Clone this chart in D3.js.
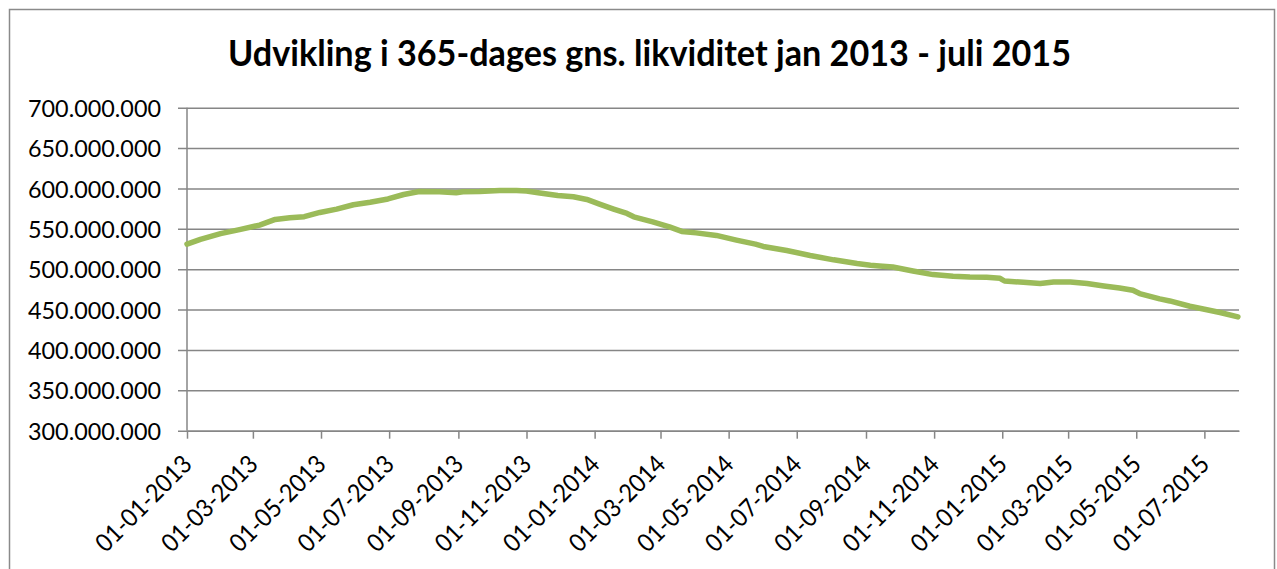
<!DOCTYPE html>
<html>
<head>
<meta charset="utf-8">
<script src="https://cdn.jsdelivr.net/npm/d3@7"></script>
<style>
  html, body { margin: 0; padding: 0; background: #fff; }
  svg { display: block; }
  text { font-family: Lato, "Open Sans", sans-serif; fill: #000; }
</style>
</head>
<body>
<svg id="chart" width="1277" height="569"></svg>
<script>
// ---- data ----
const title = "Udvikling i 365-dages gns. likviditet jan 2013 - juli 2015";

const dates = [
  "2013-01-01","2013-01-13","2013-01-31","2013-02-17","2013-03-07","2013-03-21",
  "2013-04-03","2013-04-16","2013-04-30","2013-05-15","2013-05-30","2013-06-14",
  "2013-06-30","2013-07-14","2013-07-28","2013-08-15","2013-08-30","2013-09-05",
  "2013-09-20","2013-10-08","2013-10-23","2013-11-01","2013-11-13","2013-11-29",
  "2013-12-13","2013-12-25","2014-01-06","2014-01-18","2014-01-30","2014-02-05",
  "2014-02-22","2014-03-09","2014-03-20","2014-04-02","2014-04-20","2014-05-08",
  "2014-05-25","2014-06-01","2014-06-22","2014-07-13","2014-08-03","2014-08-24",
  "2014-09-05","2014-09-13","2014-09-25","2014-10-13","2014-10-31","2014-11-18",
  "2014-12-03","2014-12-18","2014-12-30","2015-01-03","2015-01-20","2015-02-04",
  "2015-02-16","2015-03-03","2015-03-18","2015-04-02","2015-04-16","2015-04-28",
  "2015-05-04","2015-05-22","2015-05-31","2015-06-18","2015-06-30","2015-07-15",
  "2015-07-31"
];

const liquidity = [
  531000000,537000000,544000000,549000000,554600000,561600000,
  563600000,565000000,570300000,574400000,579800000,583000000,
  587000000,592500000,596200000,595800000,594600000,596000000,
  596200000,597400000,597400000,596800000,594400000,591300000,
  589700000,586400000,580200000,574400000,569000000,564900000,
  558700000,552500000,546800000,545000000,541800000,536000000,
  531000000,528200000,523200000,517000000,511600000,507000000,
  505000000,504000000,502700000,497800000,493300000,491200000,
  490300000,489900000,488700000,485400000,483800000,482200000,
  484200000,484200000,482200000,479200000,476800000,473900000,
  469800000,463200000,460700000,454100000,450800000,446400000,
  440900000
];

const yTicks = [300000000,350000000,400000000,450000000,500000000,550000000,600000000,650000000,700000000];

const xTickDates = [
  "2013-01-01","2013-03-01","2013-05-01","2013-07-01","2013-09-01","2013-11-01",
  "2014-01-01","2014-03-01","2014-05-01","2014-07-01","2014-09-01","2014-11-01",
  "2015-01-01","2015-03-01","2015-05-01","2015-07-01"
];
const xDomain = ["2013-01-01","2015-08-01"];

// ---- layout ----
const svg = d3.select("#chart");
const pLeft = 187, pRight = 1239, pTop = 107.7, pBottom = 430.7;
const gridColor = "#868686";
const lineColor = "#9BBB59";

const parse = d3.utcParse("%Y-%m-%d");
const fmtDate = d3.utcFormat("%d-%m-%Y");
const locale = d3.formatLocale({decimal: ",", thousands: ".", grouping: [3], currency: ["", ""]});
const fmtNum = locale.format(",.0f");

const x = d3.scaleUtc().domain(xDomain.map(parse)).range([pLeft, pRight]);
const y = d3.scaleLinear().domain([300000000, 700000000]).range([pBottom, pTop]);

// outer border
svg.append("rect")
  .attr("x", 9.5).attr("y", 9.5).attr("width", 1265).attr("height", 580)
  .attr("fill", "none").attr("stroke", "#8a8a8a").attr("stroke-width", 1.5);

// title
svg.append("text")
  .attr("x", 649.5).attr("y", 65.5)
  .attr("text-anchor", "middle")
  .attr("font-size", 36).attr("font-weight", 700)
  .attr("textLength", 843).attr("lengthAdjust", "spacingAndGlyphs")
  .text(title);

// y axis with gridlines
const yAxis = d3.axisLeft(y).tickValues(yTicks).tickFormat(fmtNum)
  .tickSize(-(pRight - pLeft)).tickPadding(26);
const gy = svg.append("g").attr("transform", `translate(${pLeft},0)`).call(yAxis);
gy.select(".domain").remove();
gy.selectAll(".tick line")
  .attr("x1", -9).attr("stroke", gridColor).attr("stroke-width", 1.5);
gy.selectAll(".tick text")
  .attr("font-family", "Lato, sans-serif").attr("font-size", 24)
  .attr("fill", "#000").attr("dy", "0.36em")
  .attr("textLength", 133).attr("lengthAdjust", "spacingAndGlyphs");

// y axis line
svg.append("line")
  .attr("x1", pLeft).attr("x2", pLeft).attr("y1", pTop).attr("y2", pBottom)
  .attr("stroke", gridColor).attr("stroke-width", 1.5);

// x axis
const xAxis = d3.axisBottom(x).tickValues(xTickDates.map(parse)).tickFormat(fmtDate)
  .tickSize(8).tickSizeOuter(0);
const gx = svg.append("g").attr("transform", `translate(0,${pBottom})`).call(xAxis);
gx.select(".domain").attr("stroke", gridColor).attr("stroke-width", 1.5);
gx.selectAll(".tick line").attr("stroke", gridColor).attr("stroke-width", 1.5);
gx.selectAll(".tick text")
  .attr("font-family", "Lato, sans-serif").attr("font-size", 25).attr("fill", "#000")
  .attr("text-anchor", "end")
  .attr("y", 0).attr("dy", 0)
  .attr("transform", "translate(6,35) rotate(-45)")
  .attr("textLength", 124).attr("lengthAdjust", "spacingAndGlyphs");

// line
const data = dates.map((d, i) => ({date: parse(d), value: liquidity[i]}));
svg.append("path")
  .datum(data)
  .attr("fill", "none")
  .attr("stroke", lineColor)
  .attr("stroke-width", 5.5)
  .attr("stroke-linejoin", "round")
  .attr("stroke-linecap", "round")
  .attr("d", d3.line().x(d => x(d.date)).y(d => y(d.value)));
</script>
</body>
</html>
